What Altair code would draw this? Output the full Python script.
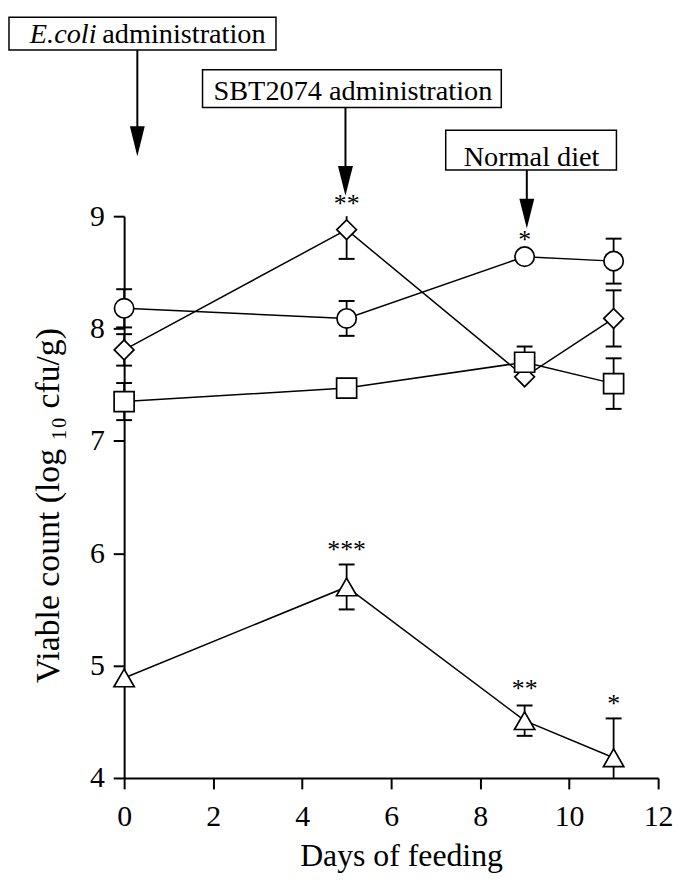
import altair as alt
import pandas as pd

# ---- data ----
days = [0, 5, 9, 11]
series_names = ["circle", "diamond", "square", "triangle"]
series_shapes = ["circle", "diamond", "square", "triangle-up"]
series_sizes = [380, 420, 420, 460]

circle_mean = [8.18, 8.09, 8.64, 8.60]
circle_se = [0.17, 0.155, 0.0, 0.20]
diamond_mean = [7.81, 8.88, 7.57, 8.09]
diamond_se = [0.14, 0.26, 0.0, 0.25]
square_mean = [7.35, 7.47, 7.70, 7.51]
square_se = [0.165, 0.0, 0.14, 0.225]
triangle_mean = [4.89, 5.70, 4.51, 4.18]
triangle_se = [0.0, 0.20, 0.135, 0.35]

star_days = [5, 9, 5, 9, 11]
star_y = [9.04, 8.72, 5.96, 4.72, 4.59]
star_labels = ["**", "*", "***", "**", "*"]

x_ticks = [0, 2, 4, 6, 8, 10, 12]
y_ticks = [4, 5, 6, 7, 8, 9]

rows = []
for name, means, ses in zip(series_names,
                            [circle_mean, diamond_mean, square_mean, triangle_mean],
                            [circle_se, diamond_se, square_se, triangle_se]):
    for d, m, s in zip(days, means, ses):
        rows.append({"series": name, "day": d, "mean": m, "se": s,
                     "lo": m - s, "hi": m + s})
df = pd.DataFrame(rows)
stars = pd.DataFrame({"day": star_days, "y": star_y, "label": star_labels})
one = pd.DataFrame({"k": [0]})

FONT = "Liberation Serif"
xscale = alt.Scale(domain=[0, 12], nice=False, zero=False)
yscale = alt.Scale(domain=[4, 9], nice=False, zero=False)

x_axis = alt.Axis(values=x_ticks, format="d", title="Days of feeding", grid=False,
                  domainColor="black", domainWidth=2, tickColor="black", tickWidth=2,
                  tickSize=11, labelFont=FONT, labelFontSize=30, labelColor="black",
                  labelPadding=13, labelFlush=False, labelOverlap=False,
                  titleFont=FONT, titleFontSize=32, titleFontWeight="normal",
                  titleColor="black", titleX=279, titleY=88, titleAlign="center",
                  titleBaseline="alphabetic")
y_axis = alt.Axis(values=y_ticks, format="d", title="Viable count (log \u2081\u2080 cfu/g)",
                  grid=False, domainColor="black", domainWidth=2, tickColor="black",
                  tickWidth=2, tickSize=11, labelFont=FONT, labelFontSize=30,
                  labelColor="black", labelPadding=9, labelFlush=False, labelOverlap=False,
                  titleFont=FONT, titleFontSize=34, titleFontWeight="normal",
                  titleColor="black", titleAngle=270, titleX=-76, titleY=291,
                  titleAlign="center", titleBaseline="middle")

X = alt.X("day:Q", scale=xscale, axis=x_axis)


def Y(field):
    return alt.Y(field, scale=yscale, axis=y_axis)


lines = alt.Chart(df).mark_line(color="black", strokeWidth=1.5).encode(
    x=X, y=Y("mean:Q"), detail="series:N")

err_base = alt.Chart(df).transform_filter("datum.se > 0").transform_calculate(
    lo_c="max(datum.lo, 4)", hi_c="min(datum.hi, 9)")
err = err_base.mark_rule(color="black", strokeWidth=1.8).encode(
    x=X, y=Y("lo_c:Q"), y2="hi_c:Q")
cap_hi = err_base.transform_filter("datum.hi <= 9").mark_tick(
    orient="horizontal", color="black", size=16, thickness=2, opacity=1).encode(
    x=X, y=Y("hi:Q"))
cap_lo = err_base.transform_filter("datum.lo >= 4").mark_tick(
    orient="horizontal", color="black", size=16, thickness=2, opacity=1).encode(
    x=X, y=Y("lo:Q"))

points = alt.Chart(df).mark_point(filled=True, fill="white", stroke="black",
                                  strokeWidth=1.7, opacity=1).encode(
    x=X, y=Y("mean:Q"),
    shape=alt.Shape("series:N", scale=alt.Scale(domain=series_names, range=series_shapes),
                    legend=None),
    size=alt.Size("series:N", scale=alt.Scale(domain=series_names, range=series_sizes),
                  legend=None))

star_layer = alt.Chart(stars).mark_text(font=FONT, fontSize=26, color="black",
                                        baseline="alphabetic", align="center").encode(
    x=X, y=Y("y:Q"), text="label:N")


def box(x1, x2, y1, y2):
    return alt.Chart(one).mark_rect(fill="white", stroke="black", strokeWidth=1.5).encode(
        x=alt.value(x1), x2=alt.value(x2), y=alt.value(y1), y2=alt.value(y2))


def label(text, x, y, align="left", style="normal"):
    return alt.Chart(one).mark_text(text=text, font=FONT, fontSize=28.5, fontStyle=style,
                                    align=align, baseline="alphabetic", color="black").encode(
        x=alt.value(x), y=alt.value(y))


ARROW = "M-0.5,-1L0.5,-1L0,1Z"


def arrow(x, y_top, head_center):
    shaft = alt.Chart(one).mark_rule(color="black", strokeWidth=2).encode(
        x=alt.value(x), y=alt.value(y_top), y2=alt.value(head_center))
    head = alt.Chart(one).mark_point(shape=ARROW, filled=True, color="black", opacity=1,
                                     size=900, strokeWidth=0).encode(
        x=alt.value(x), y=alt.value(head_center))
    return [shaft, head]


annot = []
annot += arrow(13.3, -167.5, -75.5)
annot += [box(-116, 153, -200.5, -167.5),
          label("E.coli", -95, -174.5, style="italic"),
          label("administration", -22, -174.5)]
annot += arrow(223, -109.5, -35.5)
annot += [box(79, 380, -147.5, -109.5),
          label("SBT2074 administration", 230.5, -117.5, align="center")]
annot += arrow(405.7, -46.5, -2.5)
annot += [box(324, 496, -86.5, -46.5),
          label("Normal diet", 410.5, -50.5, align="center")]

chart = alt.layer(lines, err, cap_hi, cap_lo, points, star_layer, *annot).properties(
    width=538, height=566,
    autosize=alt.AutoSizeParams(type="none"),
    padding={"left": 117, "top": 206.5, "right": 16, "bottom": 93.5},
    background="white",
).configure_view(strokeWidth=0, stroke="transparent")

chart.save("out.html", embed_options={"renderer": "svg", "actions": False})
